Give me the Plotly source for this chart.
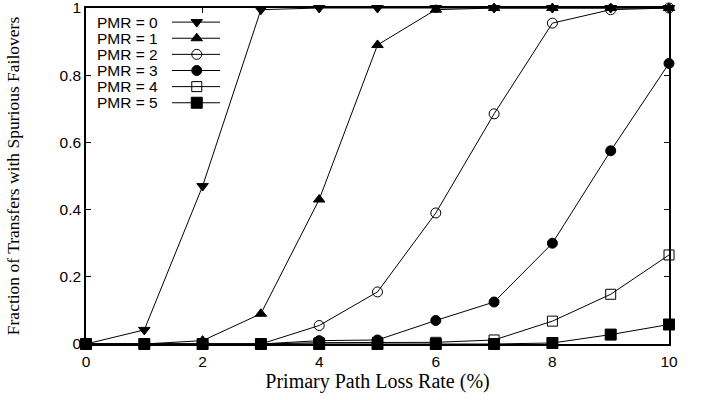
import plotly.graph_objects as go

loss_rate = [0, 1, 2, 3, 4, 5, 6, 7, 8, 9, 10]
labels = ["PMR = 0", "PMR = 1", "PMR = 2", "PMR = 3", "PMR = 4", "PMR = 5"]
pmr0 = [0, 0.042, 0.47, 0.995, 1, 1, 1, 1, 1, 1, 1]
pmr1 = [0, 0, 0.01, 0.09, 0.43, 0.89, 0.995, 1, 1, 1, 1]
pmr2 = [0, 0, 0, 0, 0.055, 0.155, 0.39, 0.685, 0.955, 0.995, 1]
pmr3 = [0, 0, 0, 0, 0.01, 0.012, 0.07, 0.125, 0.30, 0.575, 0.835]
pmr4 = [0, 0, 0, 0, 0.004, 0.005, 0.005, 0.012, 0.068, 0.148, 0.265]
pmr5 = [0, 0, 0, 0, 0, 0, 0, 0, 0.003, 0.028, 0.058]
series = [pmr0, pmr1, pmr2, pmr3, pmr4, pmr5]
x_ticks = [0, 2, 4, 6, 8, 10]
y_ticks = [0, 0.2, 0.4, 0.6, 0.8, 1]
y_tick_text = ["0", "0.2", "0.4", "0.6", "0.8", "1"]

symbols = ["triangle-down", "triangle-up", "circle-open", "circle", "square-open", "square"]
sizes = [10, 10, 10, 10, 10, 11]

SANS = "Liberation Sans, Arial, sans-serif"
SERIF = "Liberation Serif, Times New Roman, serif"

fig = go.Figure()
for name, ys, sym, sz in zip(labels, series, symbols, sizes):
    fig.add_trace(go.Scatter(
        x=loss_rate, y=ys, mode="lines+markers", name=name,
        line=dict(color="black", width=1),
        marker=dict(symbol=sym, size=sz, color="black",
                    line=dict(color="black", width=1)),
        cliponaxis=False, showlegend=False,
    ))

# gnuplot-style key: text then line sample with marker
row_y = [0.958, 0.910, 0.862, 0.814, 0.766, 0.718]
for name, sym, sz, ry in zip(labels, symbols, sizes, row_y):
    fig.add_trace(go.Scatter(
        x=[0.1475, 0.2298], y=[ry, ry], mode="lines",
        line=dict(color="black", width=1), xaxis="x2", yaxis="y2",
        showlegend=False, hoverinfo="skip",
    ))
    fig.add_trace(go.Scatter(
        x=[0.190], y=[ry], mode="markers",
        marker=dict(symbol=sym, size=sz, color="black",
                    line=dict(color="black", width=1)),
        xaxis="x2", yaxis="y2", showlegend=False, hoverinfo="skip",
    ))
    fig.add_annotation(
        x=0.125, y=ry, xref="x2", yref="y2", text=name, showarrow=False,
        xanchor="right", yanchor="middle", height=15, borderpad=0,
        font=dict(family=SANS, size=15.5, color="black"),
    )

axis_common = dict(
    showgrid=False, zeroline=False, showline=True, linecolor="black",
    linewidth=1.5, mirror="ticks", ticks="inside", ticklen=5,
    tickcolor="black", tickwidth=1, automargin=False,
    ticklabeloverflow="allow",
    tickfont=dict(family=SANS, size=15.5, color="black"),
)

fig.update_layout(
    width=702, height=400,
    margin=dict(l=86, r=33, t=8, b=56),
    paper_bgcolor="white", plot_bgcolor="white",
    xaxis=dict(range=[0, 10], tickvals=x_ticks, ticktext=[str(v) for v in x_ticks],
               ticklabelstandoff=3,
               title=dict(text="Primary Path Loss Rate (%)", standoff=2,
                          font=dict(family=SERIF, size=20, color="black")),
               **axis_common),
    yaxis=dict(range=[0, 1], tickvals=y_ticks, ticktext=y_tick_text,
               title=dict(text="Fraction of Transfers with Spurious Failovers", standoff=35,
                          font=dict(family=SERIF, size=17.5, color="black")),
               **axis_common),
    xaxis2=dict(range=[0, 1], overlaying="x", visible=False, fixedrange=True),
    yaxis2=dict(range=[0, 1], overlaying="y", visible=False, fixedrange=True),
)

fig.write_html("out.html")
